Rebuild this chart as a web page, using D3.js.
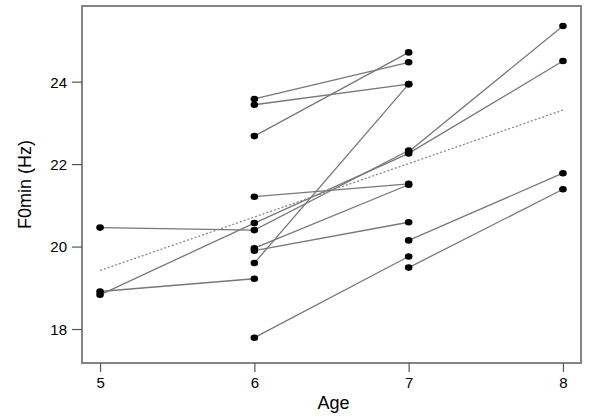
<!DOCTYPE html>
<html>
<head>
<meta charset="utf-8">
<script src="https://cdn.jsdelivr.net/npm/d3@7"></script>
<style>
  body { margin: 0; background: #fff; }
  text { font-family: "Liberation Sans", Arial, sans-serif; fill: #000; }
</style>
</head>
<body>
<div id="chart"></div>
<script>
"use strict";

// tick values
const ageTicks = [5, 6, 7, 8];
const f0Ticks = [18, 20, 22, 24];

// one array of [age, F0min] per child
const subjects = [
    [[5, 20.46], [6, 20.40], [7, 22.33]],
    [[5, 18.91], [6, 19.22]],
    [[5, 18.83], [6, 20.57], [7, 22.26], [8, 24.50]],
    [[6, 23.58], [7, 24.47]],
    [[6, 23.44], [7, 23.94]],
    [[6, 22.68], [7, 24.71]],
    [[6, 21.21], [7, 21.52]],
    [[6, 19.96], [7, 21.50]],
    [[6, 19.90], [7, 20.59]],
    [[6, 19.60], [7, 23.94]],
    [[6, 17.79], [7, 19.76]],
    [[7, 20.15], [8, 21.78]],
    [[7, 19.49], [8, 21.39]],
    [[7, 22.30], [8, 25.35]]
];

// fitted trend (dotted)
const trend = [[5, 19.42], [8, 23.31]];

const width = 600, height = 420;
const margin = { top: 6, right: 19, bottom: 57, left: 82 };

const svg = d3.select("#chart").append("svg")
    .attr("width", width)
    .attr("height", height);

const x = d3.scaleLinear()
    .domain([4.883, 8.117])
    .range([margin.left, width - margin.right]);

const y = d3.scaleLinear()
    .domain([17.176, 25.835])
    .range([height - margin.bottom, margin.top]);

// frame
svg.append("rect")
    .attr("x", margin.left)
    .attr("y", margin.top)
    .attr("width", width - margin.left - margin.right)
    .attr("height", height - margin.top - margin.bottom)
    .attr("fill", "none")
    .attr("stroke", "#777")
    .attr("stroke-width", 1.8);

// axes
const xAxis = svg.append("g")
    .attr("transform", "translate(0," + (height - margin.bottom) + ")")
    .call(d3.axisBottom(x).tickValues(ageTicks).tickSize(9).tickPadding(5).tickFormat(d3.format("d")));

const yAxis = svg.append("g")
    .attr("transform", "translate(" + margin.left + ",0)")
    .call(d3.axisLeft(y).tickValues(f0Ticks).tickSize(10).tickPadding(5).tickFormat(d3.format("d")));

[xAxis, yAxis].forEach(function (g) {
    g.select(".domain").remove();
    g.selectAll(".tick line").attr("stroke", "#555").attr("stroke-width", 1.2);
    g.selectAll(".tick text").style("font-size", "15px").attr("fill", "#000");
});
yAxis.selectAll(".tick text").attr("dy", "0.36em");

// subject lines
const line = d3.line()
    .x(function (d) { return x(d[0]); })
    .y(function (d) { return y(d[1]); });

svg.append("g")
    .selectAll("path")
    .data(subjects)
    .enter()
    .append("path")
    .attr("d", line)
    .attr("fill", "none")
    .attr("stroke", "#777")
    .attr("stroke-width", 1.3);

// trend line
svg.append("path")
    .datum(trend)
    .attr("d", line)
    .attr("fill", "none")
    .attr("stroke", "#888")
    .attr("stroke-width", 1.3)
    .attr("stroke-dasharray", "2,2");

// points
svg.append("g")
    .selectAll("ellipse")
    .data(subjects.flat())
    .enter()
    .append("ellipse")
    .attr("cx", function (d) { return x(d[0]); })
    .attr("cy", function (d) { return y(d[1]); })
    .attr("rx", 3.8)
    .attr("ry", 3.3)
    .attr("fill", "#000");

// axis titles
svg.append("text")
    .attr("x", (margin.left + width - margin.right) / 2 + 2)
    .attr("y", 409)
    .attr("text-anchor", "middle")
    .style("font-size", "18px")
    .text("Age");

svg.append("text")
    .attr("transform", "translate(31," + ((margin.top + height - margin.bottom) / 2) + ") rotate(-90)")
    .attr("text-anchor", "middle")
    .style("font-size", "18px")
    .text("F0min (Hz)");
</script>
</body>
</html>
